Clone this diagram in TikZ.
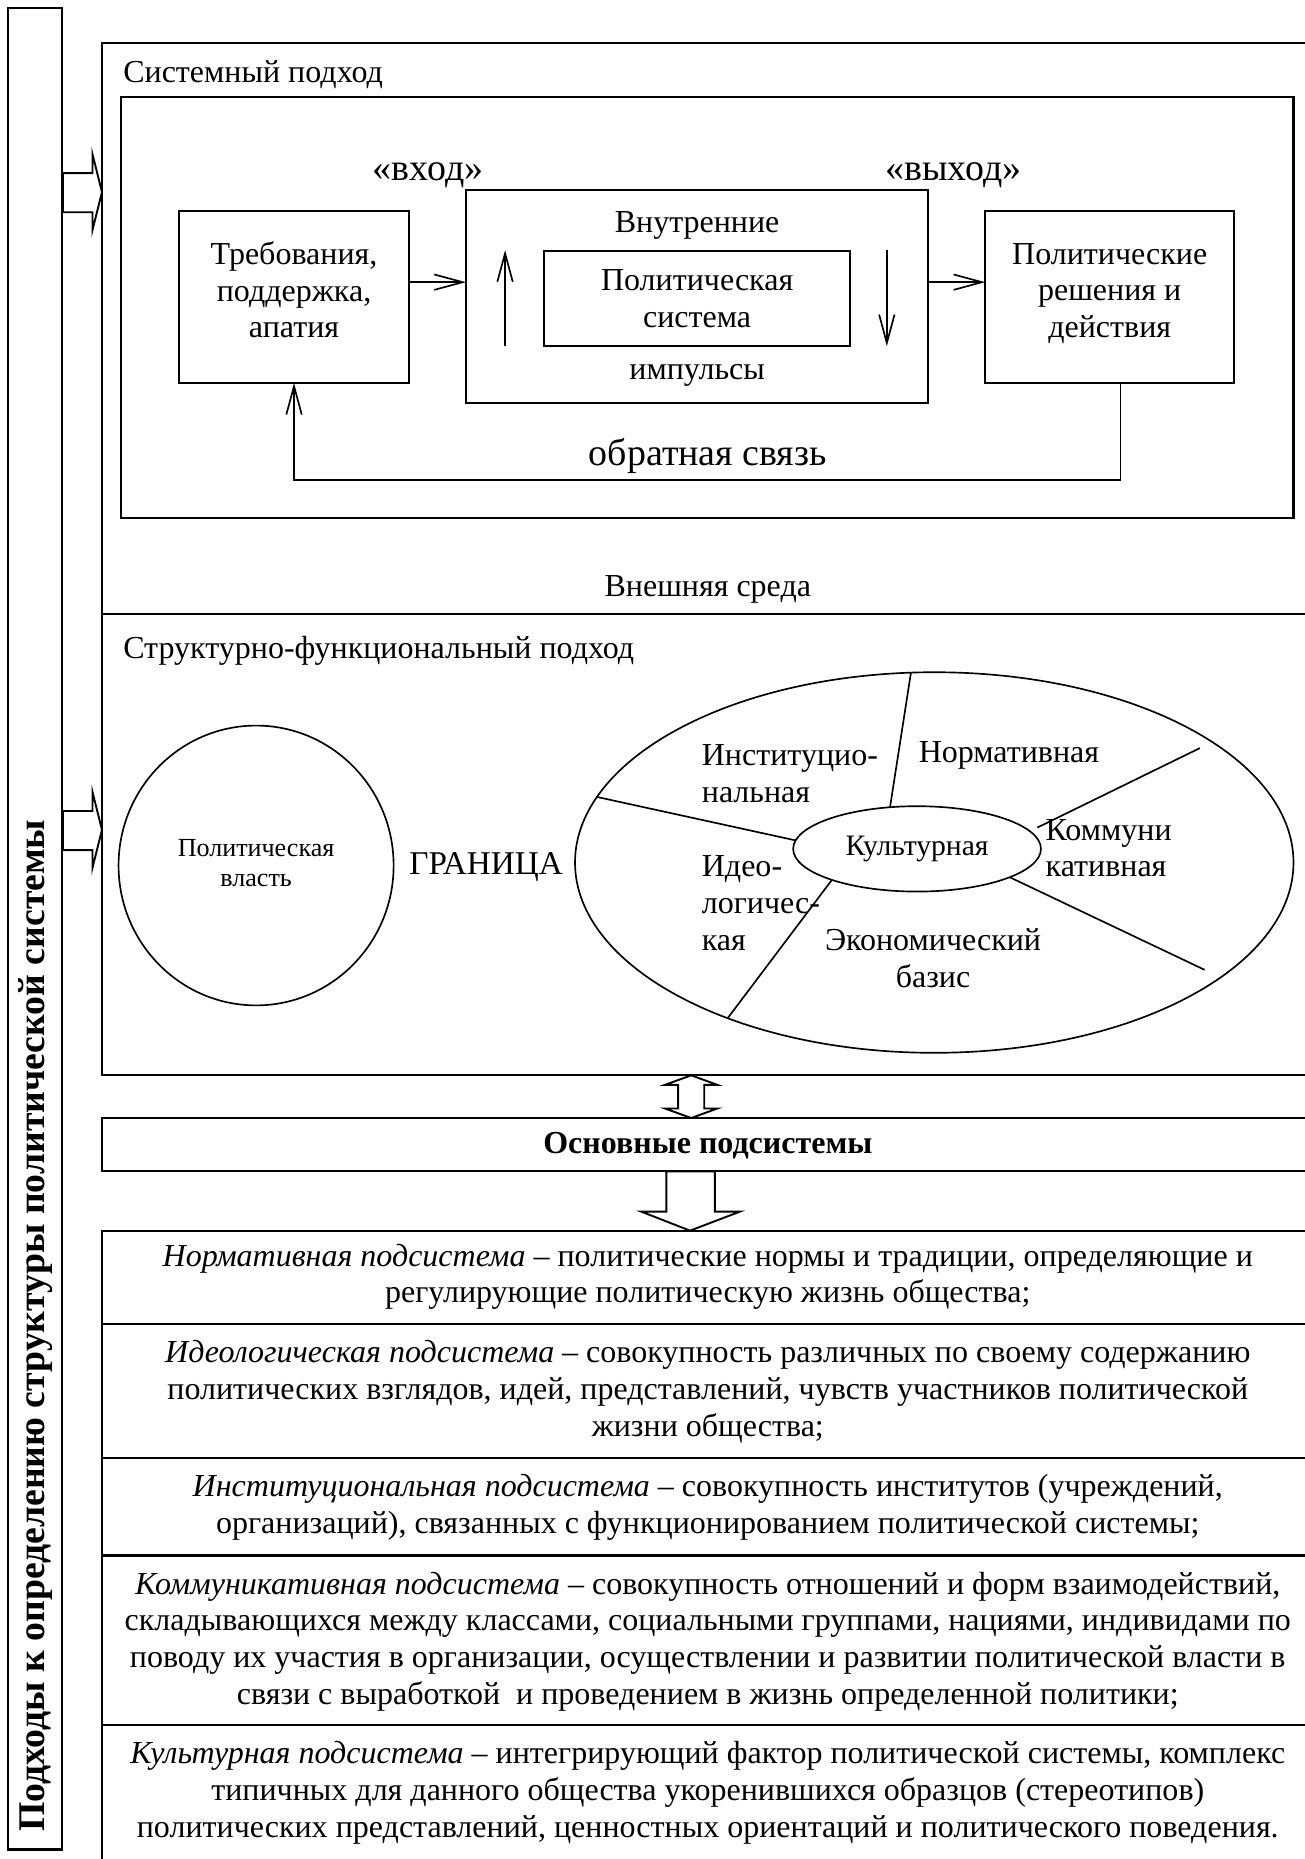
\documentclass[tikz,border=0pt]{standalone}
\usepackage{fontspec}
\setmainfont{Liberation Serif}
\usetikzlibrary{arrows.meta,shapes.geometric}
\begin{document}
\begin{tikzpicture}[x=0.5pt,y=-0.5pt,
  every node/.style={inner sep=0pt, outer sep=0pt, font=\fontsize{13.5}{15.5}\selectfont},
  boxnode/.style={draw, line width=0.9pt, rectangle},
  fine/.style={line width=0.7pt},
  arr/.style={line width=0.7pt, -{Straight Barb[length=12pt,width=6.5pt]}},
  blockarrow/.style={draw, line width=0.8pt, fill=white, line join=miter},
  boldtxt/.style={font=\fontsize{13.5}{15.5}\selectfont\bfseries},
  desc/.style={align=center, font=\fontsize{13.5}{15.5}\selectfont},
  biglab/.style={font=\fontsize{16}{18}\selectfont},
]
\useasboundingbox (0,0) rectangle (1100,1568);
\fill[white] (0,0) rectangle (1100,1568);

% left bar
\node[boxnode, minimum width=22.5pt, minimum height=776.5pt] (bar) at (29.5,783.5) {};
\node[rotate=90, anchor=west, font=\fontsize{15.9}{18}\selectfont\bfseries] (bartxt) at (30,1545) {Подходы к определению структуры политической системы};

% outer frame
\node[boxnode, anchor=north west, minimum width=511pt, minimum height=435.5pt] (frame) at (86,36) {};
\draw[line width=0.9pt] (frame.west |- 0,518) -- (frame.east |- 0,518);

% block arrows from the bar
\draw[blockarrow] (53,146) -- (78,146) -- (78,130) -- (86,162) -- (78,194) -- (78,179) -- (53,179) -- cycle;
\draw[blockarrow] (53,684) -- (78,684) -- (78,668) -- (86,700) -- (78,732) -- (78,717) -- (53,717) -- cycle;

% systemic approach
\node[anchor=base west] (systitle) at (104,70) {Системный подход};
\node[boxnode, anchor=north west, minimum width=494.5pt, minimum height=177.5pt] (sys) at (102,82) {};
\node[boxnode, minimum width=97pt, minimum height=72.5pt] (req) at (248,250.5) {};
\node[align=center] (reqt) at (248,244.5) {Требования,\\поддержка,\\апатия};
\node[boxnode, minimum width=195pt, minimum height=90pt] (inner) at (588,250) {};
\node[boxnode, minimum width=129pt, minimum height=40pt, align=center] (ps) at (588,252) {Политическая\\система};
\node[boxnode, minimum width=105pt, minimum height=72.5pt] (out) at (936,250.5) {};
\node[align=center] (outt) at (936,247.5) {Политические\\решения и\\действия};
\node[biglab] (inlab) at (361,148) {«вход»};
\node[biglab] (outlab) at (804,148) {«выход»};
\node (vn) at (588,190) {Внутренние};
\node (imp) at (588,317) {импульсы};
\draw[arr] (req.east |- 0,238) -- (inner.west |- 0,238);
\draw[arr] (inner.east |- 0,238) -- (out.west |- 0,238);
\coordinate (upA) at (426,292); \coordinate (upB) at (426,211);
\draw[arr] (upA) -- (upB);
\coordinate (dnA) at (748,211); \coordinate (dnB) at (748,292);
\draw[arr] (dnA) -- (dnB);
\draw[arr] (out.south -| 945,0) -- (945,405) -- (248,405) -- (req.south);
\node[biglab] (fb) at (597,385) {обратная связь};
\node (env) at (597,497) {Внешняя среда};

% structural-functional approach
\node[anchor=base west] (sftitle) at (104,555) {Структурно-функциональный подход};
\node[draw, ellipse, fine, minimum width=116pt, minimum height=118pt] (pw) at (216,730) {};
\node[align=center, font=\fontsize{11}{12.5}\selectfont] (pwt) at (216,728) {Политическая\\власть};
\node[font=\fontsize{14}{16}\selectfont] (gr) at (410,731) {ГРАНИЦА};
\node[draw, ellipse, fine, minimum width=303pt, minimum height=160.5pt] (ell) at (788,727.5) {};
\node[draw, ellipse, fine, minimum width=104.5pt, minimum height=36pt, font=\fontsize{12.5}{14}\selectfont] (cul) at (773.5,716) {Культурная};
\draw[fine] (ell.97.5) -- (cul.123);
\draw[fine] (ell.169.5) -- (cul.176);
\draw[fine] (ell.217.8) -- (cul.200);
\coordinate (c3) at (1016,818);
\draw[fine] (cul.343.6) -- (c3);
\coordinate (c2a) at (1012,631); \coordinate (c2b) at (875,698);
\draw[fine] (c2a) -- (c2b);
\node[align=left, anchor=west] (inst) at (592,652.5) {Институцио-\\нальная};
\node (norm) at (851,637) {Нормативная};
\node[align=left, anchor=west] (komm) at (882,715.5) {Коммуни\\кативная};
\node[align=left, anchor=west] (ideo) at (592,762) {Идео-\\логичес-\\кая};
\node[align=center] (econ) at (787,808.5) {Экономический\\базис};

% main subsystems
\draw[blockarrow] (583,907) -- (605,915) -- (594,915) -- (594,935) -- (605,935) -- (583,943) -- (561,935) -- (572,935) -- (572,915) -- (561,915) -- cycle;
\node[boxnode, anchor=north west, minimum width=511pt, minimum height=22.5pt] (main) at (86,943) {};
\node[boldtxt] (maint) at (597,966) {Основные подсистемы};
\draw[blockarrow] (562,988) -- (603,988) -- (603,1022) -- (624,1022) -- (582,1038) -- (541,1022) -- (562,1022) -- cycle;

\node[boxnode, anchor=north west, minimum width=511pt, minimum height=39.5pt] (b1) at (86,1038) {};
\node[boxnode, anchor=north west, minimum width=511pt, minimum height=56.5pt] (b2) at (86,1117) {};
\node[boxnode, anchor=north west, minimum width=511pt, minimum height=41pt] (b3) at (86,1230) {};
\node[boxnode, anchor=north west, minimum width=511pt, minimum height=71.5pt] (b4) at (86,1312) {};
\node[boxnode, anchor=north west, minimum width=511pt, minimum height=58.5pt] (b5) at (86,1455) {};

\node[desc] (t1) at (597,1077) {\textit{Нормативная подсистема} – политические нормы и традиции, определяющие и\\регулирующие политическую жизнь общества;};
\node[desc] (t2) at (597,1174) {\textit{Идеологическая подсистема} – совокупность различных по своему содержанию\\политических взглядов, идей, представлений, чувств участников политической\\жизни общества;};
\node[desc] (t3) at (597,1271.5) {\textit{Институциональная подсистема} – совокупность институтов (учреждений,\\организаций), связанных с функционированием политической системы;};
\node[desc] (t4) at (597,1384.5) {\textit{Коммуникативная подсистема} – совокупность отношений и форм взаимодействий,\\складывающихся между классами, социальными группами, нациями, индивидами по\\поводу их участия в организации, осуществлении и развитии политической власти в\\связи с выработкой~ и проведением в жизнь определенной политики;};
\node[desc] (t5) at (597,1512) {\textit{Культурная подсистема} – интегрирующий фактор политической системы, комплекс\\типичных для данного общества укоренившихся образцов (стереотипов)\\политических представлений, ценностных ориентаций и политического поведения.};
\end{tikzpicture}
\end{document}
